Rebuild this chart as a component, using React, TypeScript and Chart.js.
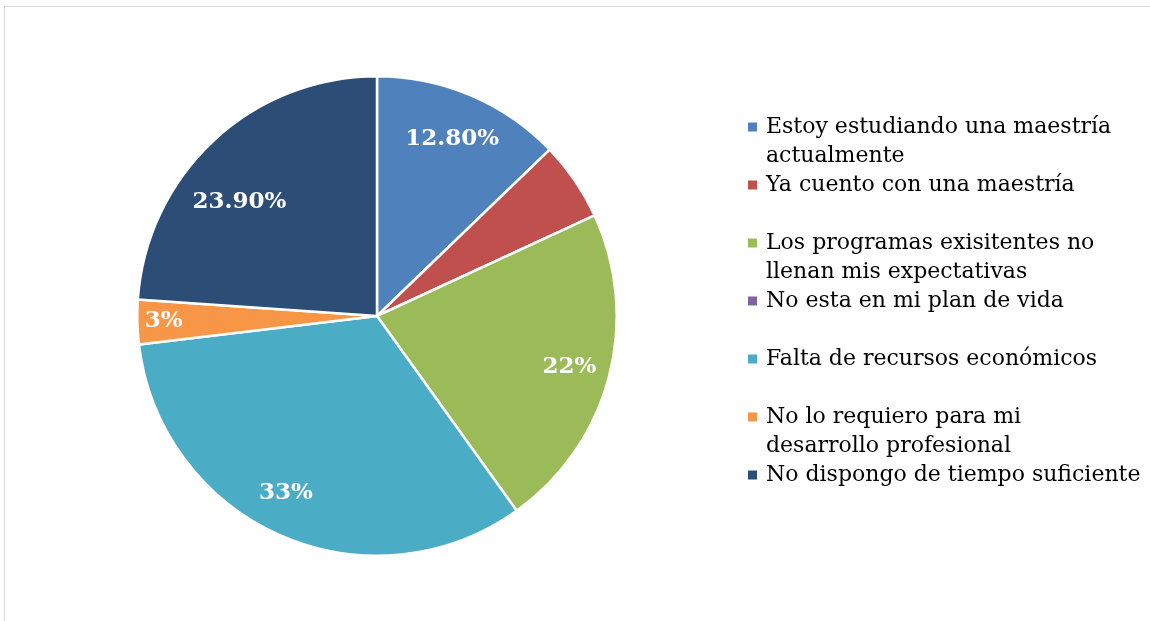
import React, { useEffect, useRef } from "react";
import { Chart, registerables } from "chart.js";

Chart.register(...registerables);

const categories: string[][] = [
  ["Estoy estudiando una maestría", "actualmente"],
  ["Ya cuento con una maestría"],
  ["Los programas exisitentes no", "llenan mis expectativas"],
  ["No esta en mi plan de vida"],
  ["Falta de recursos económicos"],
  ["No lo requiero para mi", "desarrollo profesional"],
  ["No dispongo de tiempo suficiente"],
];
const values: number[] = [12.8, 5.3, 22, 0, 33, 3, 23.9];
const valueLabels: string[] = ["12.80%", "", "22%", "", "33%", "3%", "23.90%"];
const labelRadius: number[] = [0.8, 0.8, 0.83, 0.8, 0.83, 0.89, 0.745];
const labelAngleShiftDeg: number[] = [0, 0, 0, 0, 3.5, 0, -7.4];
const colors: string[] = ["#4F81BD", "#C0504D", "#9BBB59", "#8064A2", "#4BACC6", "#F79646", "#2C4D75"];

const FONT = "'DejaVu Serif', serif";

const sliceLabels = {
  id: "sliceLabels",
  afterDatasetsDraw(chart: any) {
    const ctx = chart.ctx;
    const meta = chart.getDatasetMeta(0);
    ctx.save();
    ctx.fillStyle = "#ffffff";
    ctx.font = `bold 23px ${FONT}`;
    ctx.textAlign = "center";
    ctx.textBaseline = "middle";
    meta.data.forEach((arc: any, i: number) => {
      const txt = valueLabels[i];
      if (!txt) return;
      const { x, y, startAngle, endAngle, outerRadius } = arc.getProps(
        ["x", "y", "startAngle", "endAngle", "outerRadius"], true
      );
      const mid = (startAngle + endAngle) / 2 + (labelAngleShiftDeg[i] * Math.PI) / 180;
      const r = outerRadius * labelRadius[i];
      ctx.fillText(txt, x + Math.cos(mid) * r, y + Math.sin(mid) * r);
    });
    ctx.restore();
  },
};

const sideLegend = {
  id: "sideLegend",
  afterDraw(chart: any) {
    const ctx = chart.ctx;
    const area = chart.chartArea;
    const left = area.right + 130;
    const top = 127;
    const step = 58;
    const lineH = 29.5;
    ctx.save();
    ctx.font = `22px ${FONT}`;
    ctx.textBaseline = "middle";
    ctx.textAlign = "left";
    categories.forEach((lines, i) => {
      const y = top + i * step;
      ctx.fillStyle = colors[i];
      ctx.fillRect(left, y - 4.5, 9, 9);
      ctx.fillStyle = "#000000";
      lines.forEach((ln, j) => {
        ctx.fillText(ln, left + 18, y + j * lineH);
      });
    });
    ctx.restore();
  },
};

export default function App() {
  const ref = useRef<HTMLCanvasElement>(null);
  useEffect(() => {
    if (!ref.current) return;
    const chart = new Chart(ref.current, {
      type: "pie",
      data: {
        labels: categories.map((c) => c.join(" ")),
        datasets: [
          {
            data: values,
            backgroundColor: colors,
            borderColor: "#ffffff",
            borderWidth: 2.5,
          },
        ],
      },
      options: {
        animation: false,
        responsive: false,
        maintainAspectRatio: false,
        layout: { padding: { left: 136, top: 75, right: 532, bottom: 64 } },
        plugins: {
          legend: { display: false },
          tooltip: { enabled: false },
        },
      },
      plugins: [sliceLabels, sideLegend],
    });
    return () => chart.destroy();
  }, []);
  return (
    <div style={{ position: "fixed", left: 0, top: 0, width: 1150, height: 621, background: "#fff", overflow: "hidden" }}>
      <div
        style={{
          position: "absolute",
          left: 4,
          top: 6,
          width: 1200,
          height: 700,
          borderTop: "1.5px solid #d9d9d9",
          borderLeft: "1.5px solid #d9d9d9",
        }}
      />
      <canvas ref={ref} width={1150} height={621} style={{ position: "absolute", left: 0, top: 0 }} />
    </div>
  );
}
